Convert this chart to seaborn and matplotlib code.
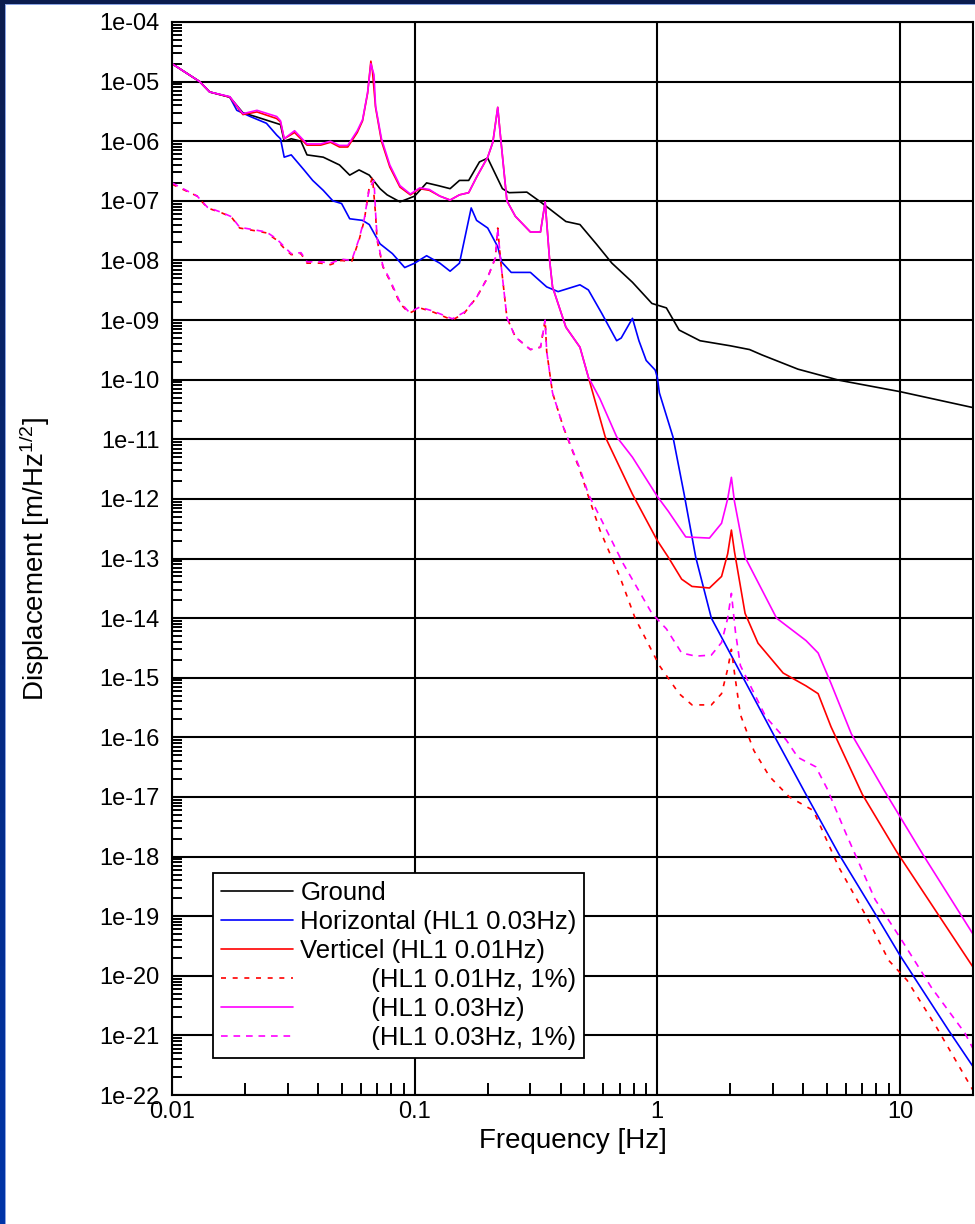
import numpy as np
import pandas as pd
import matplotlib
matplotlib.use("Agg")
import matplotlib.pyplot as plt
import seaborn as sns
from matplotlib.ticker import LogLocator, FuncFormatter, NullFormatter, FixedLocator
from matplotlib.patches import Rectangle
from matplotlib.colors import LinearSegmentedColormap

# ---------------- data ----------------
f_ground = [0.01, 0.013, 0.0143, 0.0173, 0.0196, 0.022, 0.025, 0.028, 0.029, 0.031, 0.034,
            0.036, 0.042, 0.049, 0.054, 0.059, 0.065, 0.072, 0.077, 0.087, 0.1, 0.112, 0.125,
            0.14, 0.153, 0.167, 0.185, 0.2, 0.23, 0.245, 0.29, 0.33, 0.42, 0.48, 0.56, 0.65,
            0.79, 0.95, 1.09, 1.23, 1.5, 2.0, 2.4, 2.7, 3.8, 5.6, 10.0, 20.0]
d_ground = [2e-5, 1e-5, 6.7e-6, 5.5e-6, 3e-6, 2.6e-6, 2.2e-6, 1.9e-6, 1e-6, 1.1e-6, 1e-6,
            5.9e-7, 5.4e-7, 4e-7, 2.7e-7, 3.3e-7, 2.7e-7, 1.6e-7, 1.26e-7, 9.6e-8, 1.2e-7, 2e-7, 1.8e-7,
            1.6e-7, 2.2e-7, 2.2e-7, 4.5e-7, 5.2e-7, 1.6e-7, 1.37e-7, 1.4e-7, 9.6e-8, 4.5e-8, 4e-8, 1.9e-8, 9e-9,
            4.3e-9, 1.9e-9, 1.6e-9, 6.8e-10, 4.5e-10, 3.7e-10, 3.2e-10, 2.6e-10, 1.5e-10, 9.8e-11, 6.3e-11, 3.4e-11]

f_horiz = [0.01, 0.013, 0.0143, 0.0173, 0.0185, 0.021, 0.0245, 0.027, 0.028, 0.029, 0.031, 0.035,
           0.038, 0.042, 0.046, 0.05, 0.054, 0.061, 0.065, 0.072, 0.081, 0.091, 0.1, 0.112, 0.127,
           0.14, 0.153, 0.171, 0.18, 0.2, 0.22, 0.228, 0.25, 0.3, 0.35, 0.39, 0.48, 0.52, 0.59,
           0.68, 0.71, 0.79, 0.84, 0.9, 0.98, 1.0, 1.02, 1.16, 1.29, 1.44, 1.67, 2.23, 3.0, 4.1,
           5.6, 7.9, 10.0, 15.9, 20.0]
d_horiz = [2e-5, 1e-5, 6.7e-6, 5.5e-6, 3.3e-6, 2.6e-6, 2e-6, 1.27e-6, 1.1e-6, 5.4e-7, 5.9e-7, 3.3e-7,
           2.2e-7, 1.5e-7, 1e-7, 9e-8, 5e-8, 4.7e-8, 4e-8, 1.9e-8, 1.3e-8, 7.6e-9, 9e-9, 1.2e-8, 9e-9,
           6.6e-9, 9e-9, 7.6e-8, 4.7e-8, 3.5e-8, 1.7e-8, 9.5e-9, 6.3e-9, 6.3e-9, 3.6e-9, 3e-9, 3.9e-9, 3.2e-9, 1.3e-9,
           4.5e-10, 5e-10, 1.07e-9, 4.5e-10, 2.1e-10, 1.45e-10, 1.1e-10, 6e-11, 1.1e-11, 1.2e-12, 1.05e-13, 1e-14, 1.1e-15, 1.15e-16, 1.1e-17,
           1.1e-18, 1.1e-19, 2.2e-20, 1.2e-21, 3e-22]

f_vert = [0.01, 0.013, 0.0143, 0.0173, 0.0196, 0.0224, 0.027, 0.028, 0.029, 0.032, 0.036, 0.041,
          0.045, 0.049, 0.053, 0.058, 0.061, 0.064, 0.066, 0.067, 0.069, 0.073, 0.079, 0.087, 0.096,
          0.105, 0.115, 0.127, 0.14, 0.153, 0.167, 0.18, 0.2, 0.21, 0.22, 0.225, 0.24, 0.26, 0.3,
          0.33, 0.345, 0.36, 0.37, 0.42, 0.48, 0.52, 0.61, 0.79, 1.0, 1.11, 1.26, 1.39, 1.64, 1.84,
          1.95, 2.02, 2.08, 2.3, 2.6, 3.3, 4.1, 4.6, 5.2, 7.0, 9.7, 14.1, 20.0]
d_vert = [2e-5, 1e-5, 6.7e-6, 5.5e-6, 2.8e-6, 3.1e-6, 2.4e-6, 2.1e-6, 1.1e-6, 1.4e-6, 8.6e-7, 8.6e-7,
          9.6e-7, 8e-7, 8e-7, 1.4e-6, 2.2e-6, 6.4e-6, 2.2e-5, 1.5e-5, 3.7e-6, 1e-6, 3.7e-7, 1.7e-7, 1.26e-7,
          1.6e-7, 1.5e-7, 1.2e-7, 1.03e-7, 1.26e-7, 1.37e-7, 2.5e-7, 5.4e-7, 9.6e-7, 3.7e-6, 1.4e-6, 1e-7, 5.5e-8, 3e-8,
          3e-8, 9.6e-8, 1e-8, 3.6e-9, 7.6e-10, 3.5e-10, 1.1e-10, 1.1e-11, 1.2e-12, 2e-13, 1.05e-13, 4.5e-14, 3.4e-14, 3.2e-14, 5e-14,
          1.2e-13, 3e-13, 1.3e-13, 1.2e-14, 3.8e-15, 1.2e-15, 7.3e-16, 5.4e-16, 1.5e-16, 1.1e-17, 1.2e-18, 1.2e-19, 1.4e-20]

f_vert_1pc = [0.01, 0.0127, 0.014, 0.016, 0.0176, 0.019, 0.0215, 0.0245, 0.027, 0.029, 0.031, 0.034,
              0.036, 0.041, 0.045, 0.05, 0.055, 0.059, 0.062, 0.065, 0.067, 0.069, 0.07, 0.074, 0.079,
              0.087, 0.095, 0.105, 0.12, 0.143, 0.16, 0.18, 0.2, 0.215, 0.22, 0.226, 0.24, 0.26, 0.3,
              0.33, 0.345, 0.35, 0.37, 0.41, 0.48, 0.52, 0.58, 0.7, 0.81, 1.02, 1.23, 1.39, 1.67, 1.84,
              1.95, 2.02, 2.08, 2.2, 2.5, 2.9, 3.5, 4.4, 5.6, 7.3, 9.0, 10.7, 14.1, 20.0]
d_vert_1pc = [1.9e-7, 1.2e-7, 7.6e-8, 6.3e-8, 5.3e-8, 3.5e-8, 3.2e-8, 2.9e-8, 2.2e-8, 1.6e-8, 1.25e-8, 1.3e-8,
              9e-9, 9e-9, 8.5e-9, 1e-8, 9.5e-9, 2.2e-8, 4.7e-8, 1.7e-7, 2.5e-7, 6e-8, 2.2e-8, 7.8e-9, 4.6e-9,
              1.9e-9, 1.3e-9, 1.6e-9, 1.35e-9, 1e-9, 1.3e-9, 2.4e-9, 5.2e-9, 1.1e-8, 3.5e-8, 1e-8, 1.1e-9, 5.2e-10, 3.2e-10,
              3.5e-10, 1e-9, 3e-10, 6e-11, 1.6e-11, 3e-12, 1.1e-12, 3e-13, 5e-14, 1e-14, 1.6e-15, 5.4e-16, 3.5e-16, 3.5e-16, 5.4e-16,
              1.4e-15, 3e-15, 1.2e-15, 2.4e-16, 6e-17, 2.2e-17, 1e-17, 5.9e-18, 6.6e-19, 9.6e-20, 1.8e-20, 8.4e-21, 1.4e-21, 1.2e-22]

f_vert03 = [0.01, 0.013, 0.0143, 0.0173, 0.0196, 0.0224, 0.027, 0.028, 0.029, 0.032, 0.036, 0.041,
            0.045, 0.049, 0.053, 0.058, 0.061, 0.064, 0.066, 0.068, 0.069, 0.073, 0.079, 0.087, 0.096,
            0.105, 0.115, 0.127, 0.14, 0.153, 0.167, 0.18, 0.2, 0.21, 0.22, 0.225, 0.24, 0.26, 0.3,
            0.33, 0.345, 0.36, 0.37, 0.42, 0.48, 0.52, 0.58, 0.68, 0.79, 1.0, 1.11, 1.31, 1.64, 1.84,
            1.95, 2.02, 2.08, 2.3, 3.1, 4.1, 4.6, 5.2, 6.3, 8.7, 12.4, 20.0]
d_vert03 = [2e-5, 1e-5, 6.7e-6, 5.6e-6, 2.9e-6, 3.3e-6, 2.6e-6, 2.2e-6, 1.1e-6, 1.5e-6, 9e-7, 9e-7,
            1e-6, 8.5e-7, 8.5e-7, 1.5e-6, 2.3e-6, 6.6e-6, 2e-5, 1.3e-5, 3.9e-6, 1.1e-6, 4e-7, 1.8e-7, 1.3e-7,
            1.65e-7, 1.55e-7, 1.2e-7, 1.03e-7, 1.26e-7, 1.37e-7, 2.5e-7, 5.4e-7, 9.6e-7, 3.7e-6, 1.4e-6, 1e-7, 5.5e-8, 3e-8,
            3e-8, 9.6e-8, 1e-8, 3.6e-9, 7.6e-10, 3.5e-10, 1.1e-10, 4.8e-11, 1.1e-11, 5e-12, 1.1e-12, 6.2e-13, 2.3e-13, 2.2e-13, 3.9e-13,
            1e-12, 2.3e-12, 9e-13, 1.05e-13, 1e-14, 4.2e-15, 2.6e-15, 8e-16, 1.15e-16, 1.2e-17, 1.1e-18, 5e-20]

f_vert03_1pc = [0.01, 0.0127, 0.014, 0.016, 0.0176, 0.019, 0.0215, 0.0245, 0.027, 0.029, 0.031, 0.034,
                0.036, 0.041, 0.045, 0.05, 0.055, 0.059, 0.062, 0.065, 0.068, 0.069, 0.07, 0.074, 0.079,
                0.087, 0.095, 0.105, 0.12, 0.143, 0.16, 0.18, 0.2, 0.215, 0.22, 0.226, 0.24, 0.26, 0.3,
                0.33, 0.345, 0.35, 0.37, 0.41, 0.48, 0.52, 0.58, 0.72, 0.95, 1.09, 1.26, 1.44, 1.67, 1.84,
                1.95, 2.02, 2.1, 2.2, 2.8, 3.4, 3.8, 4.5, 5.0, 6.0, 7.9, 10.0, 13.5, 18.5, 20.0]
d_vert03_1pc = [2e-7, 1.2e-7, 7.8e-8, 6.4e-8, 5.4e-8, 3.6e-8, 3.3e-8, 3e-8, 2.3e-8, 1.7e-8, 1.3e-8, 1.35e-8,
                9.5e-9, 9.5e-9, 9e-9, 1.05e-8, 1e-8, 2.3e-8, 5e-8, 1.6e-7, 2.2e-7, 6.5e-8, 2.4e-8, 8e-9, 4.8e-9,
                2e-9, 1.35e-9, 1.65e-9, 1.4e-9, 1.05e-9, 1.35e-9, 2.4e-9, 5.2e-9, 1.1e-8, 3.5e-8, 1e-8, 1.1e-9, 5.2e-10, 3.2e-10,
                3.5e-10, 1e-9, 3e-10, 6e-11, 1.6e-11, 3.2e-12, 1.2e-12, 5e-13, 8.5e-14, 1.2e-14, 6.6e-15, 2.6e-15, 2.3e-15, 2.4e-15, 3.9e-15,
                1e-14, 2.6e-14, 5.8e-15, 1.6e-15, 2.2e-16, 9e-17, 4.6e-17, 3.2e-17, 1.4e-17, 2.4e-18, 1.9e-19, 4.4e-20, 6.3e-21, 1.1e-21, 6e-22]

series_labels = ["Ground",
                 "Horizontal (HL1 0.03Hz)",
                 "Verticel (HL1 0.01Hz)",
                 "          (HL1 0.01Hz, 1%)",
                 "          (HL1 0.03Hz)",
                 "          (HL1 0.03Hz, 1%)"]
series_colors = ["#000000", "#0000ff", "#ff0000", "#ff0000", "#ff00ff", "#ff00ff"]
series_styles = ["-", "-", "-", (0, (3, 4)), "-", (0, (4, 3.5))]

x_ticks = [0.01, 0.1, 1, 10]
x_ticklabels = ["0.01", "0.1", "1", "10"]
y_decades = list(range(-22, -3))

# ---------------- figure ----------------
sns.set_style("white")
plt.rcParams["font.family"] = ["Liberation Sans", "DejaVu Sans"]
plt.rcParams["mathtext.default"] = "regular"

W, H = 975, 1224
fig = plt.figure(figsize=(W / 100, H / 100), dpi=100)

# frame background: navy gradient with white panel
bg = fig.add_axes([0, 0, 1, 1], zorder=-10)
cmap = LinearSegmentedColormap.from_list("navy", ["#0034a8", "#0b1c4e"])
bg.imshow(np.linspace(0, 1, 256)[:, None], aspect="auto", cmap=cmap,
          extent=[0, 1, 0, 1], origin="lower")
bg.add_patch(Rectangle((5 / W, 0), 1, 1 - 4 / H, transform=bg.transAxes,
                       facecolor="#8aa4e4", edgecolor="none"))
bg.add_patch(Rectangle((6 / W, 0), 1, 1 - 5 / H, transform=bg.transAxes,
                       facecolor="white", edgecolor="none"))
bg.set_xlim(0, 1); bg.set_ylim(0, 1)
bg.axis("off")

left, right, top, bottom = 172, 973, 22, 1095
ax = fig.add_axes([left / W, 1 - bottom / H, (right - left) / W, (bottom - top) / H])
ax.set_facecolor("white")
ax.set_xscale("log")
ax.set_yscale("log")

all_f = [f_ground, f_horiz, f_vert, f_vert_1pc, f_vert03, f_vert03_1pc]
all_d = [d_ground, d_horiz, d_vert, d_vert_1pc, d_vert03, d_vert03_1pc]
for f, d, lab, col, ls in zip(all_f, all_d, series_labels, series_colors, series_styles):
    df = pd.DataFrame({"freq": f, "disp": d})
    sns.lineplot(data=df, x="freq", y="disp", ax=ax, color=col, linestyle=ls,
                 linewidth=1.2, estimator=None, errorbar=None, label=lab, legend=False)

ax.set_xlim(0.01, 20)
ax.set_ylim(1e-22, 1e-4)

ax.xaxis.set_major_locator(FixedLocator(x_ticks))
ax.set_xticklabels(x_ticklabels)
ax.xaxis.set_minor_locator(LogLocator(base=10, subs=np.arange(2, 10), numticks=100))
ax.xaxis.set_minor_formatter(NullFormatter())
ax.yaxis.set_major_locator(FixedLocator([10.0 ** k for k in y_decades]))
ax.yaxis.set_major_formatter(FuncFormatter(lambda v, p: f"{v:.0e}"))
ax.yaxis.set_minor_locator(LogLocator(base=10, subs=np.arange(2, 10), numticks=100))
ax.yaxis.set_minor_formatter(NullFormatter())

ax.grid(True, which="major", color="black", linewidth=1.5)
ax.grid(False, which="minor")
ax.set_axisbelow(True)
for s in ax.spines.values():
    s.set_color("black")
    s.set_linewidth(1.5)

ax.tick_params(axis="both", which="both", direction="in", colors="black",
               bottom=True, left=True, top=False, right=False, labelsize=17)
ax.tick_params(axis="x", which="minor", length=8.6, width=1.4)
ax.tick_params(axis="y", which="minor", length=7.2, width=1.4)
ax.tick_params(axis="both", which="major", length=0, width=1.4)
ax.tick_params(axis="y", which="major", pad=9)
ax.tick_params(axis="x", which="major", pad=4)

ax.set_xlabel("Frequency [Hz]", fontsize=20, color="black")
ax.xaxis.set_label_coords(0.5, -0.031)
ax.set_ylabel("Displacement [m/Hz$^{1/2}$]", fontsize=20, color="black")
ax.yaxis.set_label_coords(-0.150, 0.5)

handles = ax.get_lines()[:len(series_labels)]
leg = ax.legend(handles=handles, labels=series_labels, loc="lower left",
                bbox_to_anchor=((213 - left) / (right - left), (bottom - 1058) / (bottom - top)),
                borderaxespad=0, fontsize=18.5, frameon=True, fancybox=False, framealpha=1,
                edgecolor="black", handlelength=2.8, handletextpad=0.3, labelspacing=0.2,
                borderpad=0.3)
leg.get_frame().set_linewidth(1.3)
for t in leg.get_texts():
    t.set_color("black")

fig.savefig("out.png", dpi=100)
